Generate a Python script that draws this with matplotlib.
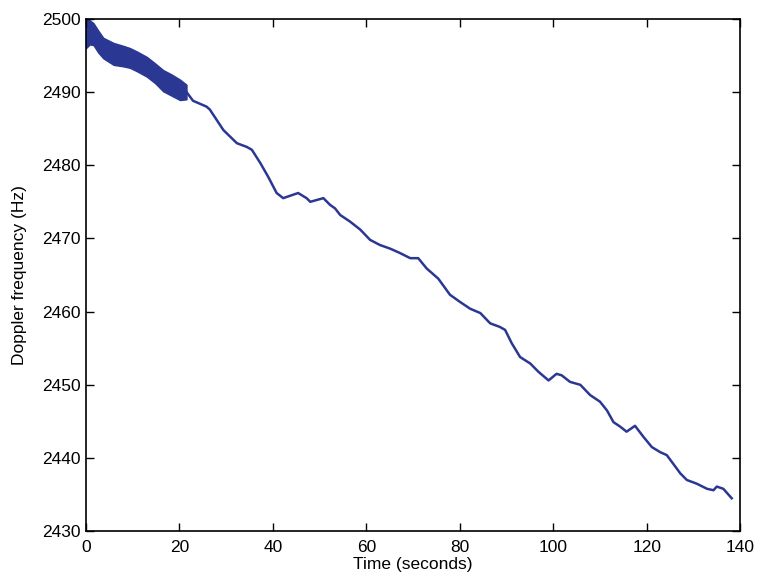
import numpy as np
import matplotlib
matplotlib.use('Agg')
import matplotlib.pyplot as plt

plt.rcParams['font.family'] = ['Liberation Sans', 'DejaVu Sans']

LINE_COLOR = '#2b3893'

# noisy start of the record: upper / lower edge of the band (Hz)
band_t = [0, 0.8, 1.6, 2.6, 3.7, 5.9, 8, 9.4, 11, 13, 14.8, 16.5, 18.3, 20.1, 21.5]
band_hi = [2500.0, 2499.8, 2499.4, 2498.4, 2497.4, 2496.7, 2496.3, 2496.0, 2495.5,
           2494.8, 2493.9, 2493.0, 2492.4, 2491.7, 2491.0]
band_lo = [2496.0, 2496.5, 2496.4, 2495.4, 2494.6, 2493.7, 2493.5, 2493.3, 2492.8,
           2492.1, 2491.2, 2490.1, 2489.5, 2488.9, 2489.0]

# smoother part of the track (seconds, Hz)
time_s = [21.5, 22.9, 25.8, 26.5, 29.4, 32.3, 34.4, 35.5, 37.3, 39.0, 40.8, 42.2,
          45.4, 47.2, 48.0, 50.8, 52.2, 53.3, 54.4, 56.5, 58.7, 60.8, 62.9, 65.1,
          67.2, 69.4, 71.1, 72.9, 75.4, 77.9, 80.1, 82.2, 84.4, 86.5, 88.6, 89.7,
          91.1, 92.9, 95.1, 96.8, 99.0, 100.7, 101.8, 103.6, 105.8, 107.9, 110.0,
          111.5, 112.9, 114.3, 115.7, 117.5, 119.3, 121.1, 122.9, 124.3, 125.7,
          127.2, 128.6, 130.7, 132.9, 134.3, 135.0, 136.4, 138.2]
freq_hz = [2490.0, 2488.8, 2488.0, 2487.6, 2484.8, 2483.0, 2482.5, 2482.1, 2480.3,
           2478.4, 2476.2, 2475.5, 2476.2, 2475.5, 2475.0, 2475.5, 2474.6, 2474.1,
           2473.2, 2472.3, 2471.2, 2469.8, 2469.1, 2468.6, 2468.0, 2467.3, 2467.3,
           2465.9, 2464.5, 2462.3, 2461.3, 2460.4, 2459.8, 2458.4, 2457.9, 2457.5,
           2455.7, 2453.8, 2452.9, 2451.8, 2450.6, 2451.5, 2451.3, 2450.4, 2450.0,
           2448.6, 2447.7, 2446.5, 2444.9, 2444.3, 2443.6, 2444.4, 2442.9, 2441.5,
           2440.8, 2440.4, 2439.2, 2437.9, 2437.0, 2436.5, 2435.8, 2435.6, 2436.1,
           2435.8, 2434.5]

x_ticks = [0, 20, 40, 60, 80, 100, 120, 140]
y_ticks = [2430, 2440, 2450, 2460, 2470, 2480, 2490, 2500]

fig = plt.figure(figsize=(7.75, 5.87), dpi=100)
ax = fig.add_axes([0.111, 0.095, 0.844, 0.873])

ax.fill_between(band_t, band_lo, band_hi, color=LINE_COLOR, linewidth=1.0)
ax.plot(time_s, freq_hz, color=LINE_COLOR, linewidth=1.8)

ax.set_xlim(0, 140)
ax.set_ylim(2430, 2500)
ax.set_xticks(x_ticks)
ax.set_yticks(y_ticks)
ax.tick_params(direction='in', length=6, width=1, top=True, right=True,
               labelsize=12.5)
ax.tick_params(axis='x', pad=6)
ax.tick_params(axis='y', pad=4)
for sp in ax.spines.values():
    sp.set_linewidth(1.2)

ax.set_xlabel('Time (seconds)', fontsize=12.5, labelpad=2)
ax.set_ylabel('Doppler frequency (Hz)', fontsize=12.5, labelpad=11)

fig.savefig('out.png', dpi=100)
